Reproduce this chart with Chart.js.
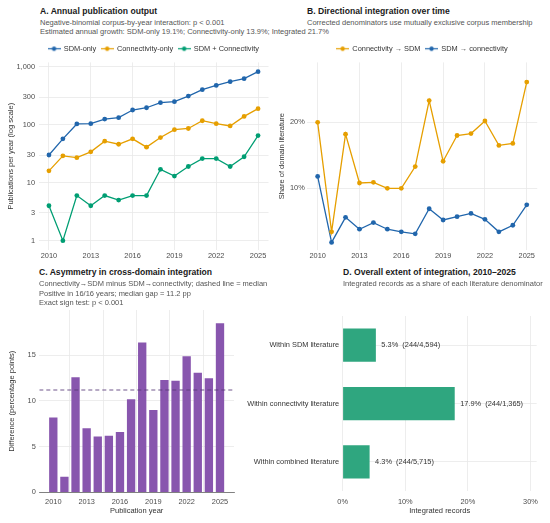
<!DOCTYPE html>
<html>
<head>
<meta charset="utf-8">
<script src="https://cdn.jsdelivr.net/npm/chart.js@4.4.1/dist/chart.umd.min.js"></script>
<style>
  html, body { margin: 0; background: #fff; }
  body { font-family: "Liberation Sans", Arial, sans-serif; }
  #fig { position: relative; width: 550px; height: 523px; overflow: hidden; }
  canvas { position: absolute; }
  .title { position: absolute; font-size: 8.6px; font-weight: bold; line-height: 10px; color: #1a1a1a; white-space: nowrap; z-index: 2; }
  .sub { position: absolute; font-size: 7.5px; line-height: 9.5px; color: #555; white-space: nowrap; z-index: 2; }
</style>
</head>
<body>
<div id="fig">
  <canvas id="chartA" width="275" height="220" style="left:0;top:40px"></canvas>
  <canvas id="chartB" width="275" height="220" style="left:275px;top:40px"></canvas>
  <canvas id="chartC" width="240" height="223" style="left:0;top:300px"></canvas>
  <canvas id="chartD" width="310" height="223" style="left:240px;top:300px"></canvas>

  <div class="title" style="left:40px;top:6px">A. Annual publication output</div>
  <div class="sub" style="left:40px;top:17.5px">Negative-binomial corpus-by-year interaction: p &lt; 0.001<br>Estimated annual growth: SDM-only 19.1%; Connectivity-only 13.9%; Integrated 21.7%</div>

  <div class="title" style="left:307px;top:6px">B. Directional integration over time</div>
  <div class="sub" style="left:307px;top:17.5px">Corrected denominators use mutually exclusive corpus membership</div>

  <div class="title" style="left:39px;top:267px">C. Asymmetry in cross-domain integration</div>
  <div class="sub" style="left:39px;top:279.3px">Connectivity→SDM minus SDM→connectivity; dashed line = median<br>Positive in 16/16 years; median gap = 11.2 pp<br>Exact sign test: p &lt; 0.001</div>

  <div class="title" style="left:343px;top:267px">D. Overall extent of integration, 2010–2025</div>
  <div class="sub" style="left:343px;top:278.5px">Integrated records as a share of each literature denominator</div>
</div>

<script>
// values
const years = [2010, 2011, 2012, 2013, 2014, 2015, 2016, 2017, 2018, 2019, 2020, 2021, 2022, 2023, 2024, 2025];
const sdmOnly = [30, 57, 103, 104, 125, 132, 179, 196, 240, 249, 312, 401, 476, 551, 621, 820];
const connectivityOnly = [16, 29, 27, 34, 52, 46, 57, 41, 60, 82, 86, 117, 104, 95, 139, 189];
const integrated = [4, 1, 6, 4, 6, 5, 6, 6, 17, 13, 19, 26, 26, 19, 28, 65];

const connToSdm = [20.0, 3.4, 18.2, 10.8, 10.9, 10.0, 10.0, 13.3, 23.3, 14.1, 18.0, 18.3, 20.2, 16.5, 16.8, 26.1];
const sdmToConn = [11.8, 1.8, 5.6, 3.8, 4.8, 3.8, 3.4, 3.1, 6.9, 5.2, 5.7, 6.2, 5.3, 3.4, 4.4, 7.5];

const asymmetryGap = [8.2, 1.7, 12.6, 7.0, 6.1, 6.2, 6.6, 10.2, 16.4, 9.0, 12.3, 12.2, 14.9, 13.1, 12.5, 18.5];
const medianGap = 11.2;

const extentCategories = ['Within SDM literature', 'Within connectivity literature', 'Within combined literature'];
const extentShare = [5.3, 17.9, 4.3];
const extentIntegrated = 244;
const extentDenominator = [4594, 1365, 5715];

const yearTicks = [2010, 2013, 2016, 2019, 2022, 2025];
const logTicks = [1, 3, 10, 30, 100, 300, 1000];
const shareTicks = [10, 20];
const gapTicks = [0, 5, 10, 15];
const pctTicks = [0, 10, 20, 30];

const BLUE = '#2166ac', ORANGE = '#e69f00', GREEN = '#009e73';
const PURPLE = '#8856ae', TEAL = '#2fa67f';

Chart.defaults.font.family = '"Liberation Sans", Arial, sans-serif';
Chart.defaults.font.size = 7.4;
Chart.defaults.color = '#4d4d4d';
Chart.defaults.animation = false;

const gridStyle = { color: '#e9e9e9', lineWidth: 0.8, drawTicks: false };

function fixedTicks(list) {
  return (axis) => { axis.ticks = list.map(v => ({ value: v })); };
}

function axisTitle(text, padding) {
  return { display: true, text: text, color: '#333', font: { size: 7.5 }, padding: padding };
}

function yearAxis(min, max, height, extra) {
  return Object.assign({
    type: 'linear', min: min, max: max, offset: false,
    afterBuildTicks: fixedTicks(yearTicks),
    afterFit: (s) => { s.height = height; },
    ticks: { callback: v => String(v), padding: 1.5, maxRotation: 0, autoSkip: false },
    grid: gridStyle,
    border: { display: false }
  }, extra || {});
}

// legend key: short line with a dot, like the ggplot keys
function lineDotIcon(color) {
  const c = document.createElement('canvas');
  c.width = 13; c.height = 7;
  const g = c.getContext('2d');
  g.strokeStyle = color; g.lineWidth = 1.2;
  g.beginPath(); g.moveTo(0, 3.5); g.lineTo(13, 3.5); g.stroke();
  g.fillStyle = color;
  g.beginPath(); g.arc(6.5, 3.5, 2.2, 0, Math.PI * 2); g.fill();
  return c;
}

const legendOpts = {
  position: 'top',
  fullSize: false,
  labels: {
    color: '#333',
    usePointStyle: true,
    pointStyleWidth: 12,
    padding: 5,
    generateLabels: (chart) => Chart.defaults.plugins.legend.labels.generateLabels(chart).map(item => {
      item.pointStyle = lineDotIcon(chart.data.datasets[item.datasetIndex].borderColor);
      return item;
    })
  }
};

function series(label, values, color) {
  return {
    label: label,
    data: years.map((y, i) => ({ x: y, y: values[i] })),
    borderColor: color,
    backgroundColor: color,
    borderWidth: 1.3,
    pointRadius: 2.4,
    pointBorderWidth: 0,
    pointBackgroundColor: color,
    tension: 0
  };
}

// A. annual output, log scale
new Chart(document.getElementById('chartA'), {
  type: 'line',
  data: {
    datasets: [
      series('SDM-only', sdmOnly, BLUE),
      series('Connectivity-only', connectivityOnly, ORANGE),
      series('SDM + Connectivity', integrated, GREEN)
    ]
  },
  options: {
    responsive: false,
    layout: { padding: { right: 6.5 } },
    plugins: { legend: legendOpts, tooltip: { enabled: false } },
    scales: {
      x: yearAxis(2009.25, 2025.75, 10),
      y: {
        type: 'logarithmic', min: 0.69, max: 1186,
        afterBuildTicks: fixedTicks(logTicks),
        afterFit: (s) => { s.width = 38.5; },
        ticks: { callback: v => v.toLocaleString('en-US'), padding: 3.5 },
        grid: gridStyle,
        border: { display: false },
        title: axisTitle('Publications per year (log scale)', { top: 6.5, bottom: 0 })
      }
    }
  }
});

// B. directional integration
new Chart(document.getElementById('chartB'), {
  type: 'line',
  data: {
    datasets: [
      series('Connectivity → SDM', connToSdm, ORANGE),
      series('SDM → connectivity', sdmToConn, BLUE)
    ]
  },
  options: {
    responsive: false,
    layout: { padding: { right: 12.8 } },
    plugins: { legend: legendOpts, tooltip: { enabled: false } },
    scales: {
      x: yearAxis(2009.25, 2025.75, 10),
      y: {
        type: 'linear', min: 0.65, max: 29.08,
        afterBuildTicks: fixedTicks(shareTicks),
        afterFit: (s) => { s.width = 32.2; },
        ticks: { callback: v => v + '%', padding: 2.5 },
        grid: gridStyle,
        border: { display: false },
        title: axisTitle('Share of domain literature', { top: 2.8, bottom: 0 })
      }
    }
  }
});

// C. asymmetry bars with median line
new Chart(document.getElementById('chartC'), {
  type: 'bar',
  data: {
    datasets: [
      {
        type: 'line',
        label: 'Median',
        data: [{ x: 2008.74, y: medianGap }, { x: 2026.26, y: medianGap }],
        borderColor: 'rgba(88, 58, 120, 0.85)',
        borderWidth: 1.1,
        borderDash: [4, 3],
        pointRadius: 0,
        order: 0
      },
      {
        label: 'Difference',
        data: years.map((y, i) => ({ x: y, y: asymmetryGap[i] })),
        backgroundColor: PURPLE,
        barPercentage: 0.75,
        categoryPercentage: 1,
        order: 1
      }
    ]
  },
  options: {
    responsive: false,
    layout: { padding: { top: 10, right: 6 } },
    plugins: { legend: { display: false }, tooltip: { enabled: false } },
    scales: {
      x: yearAxis(2008.74, 2026.26, 30.7, {
        ticks: { callback: v => String(v), padding: 5.3, maxRotation: 0, autoSkip: false },
        border: { display: true, color: '#666', width: 0.8 },
        title: axisTitle('Publication year', { top: 0, bottom: 7.5 })
      }),
      y: {
        type: 'linear', min: 0, max: 19.96,
        afterBuildTicks: fixedTicks(gapTicks),
        afterFit: (s) => { s.width = 39.3; },
        ticks: { padding: 3.5 },
        grid: gridStyle,
        border: { display: false },
        title: axisTitle('Difference (percentage points)', { top: 7.2, bottom: 0 })
      }
    }
  }
});

// value labels to the right of the D bars
const barLabels = {
  id: 'barLabels',
  afterDatasetsDraw(chart) {
    const ctx = chart.ctx;
    const meta = chart.getDatasetMeta(0);
    ctx.save();
    ctx.font = '7.4px "Liberation Sans", Arial, sans-serif';
    ctx.fillStyle = '#333';
    ctx.textBaseline = 'middle';
    ctx.textAlign = 'left';
    meta.data.forEach((bar, i) => {
      const txt = extentShare[i].toFixed(1) + '%  (' + extentIntegrated + '/' +
        extentDenominator[i].toLocaleString('en-US') + ')';
      ctx.fillText(txt, bar.x + 5.5, bar.y);
    });
    ctx.restore();
  }
};

// D. overall extent
new Chart(document.getElementById('chartD'), {
  type: 'bar',
  data: {
    labels: extentCategories,
    datasets: [{
      data: extentShare,
      backgroundColor: TEAL,
      barPercentage: 0.57,
      categoryPercentage: 1
    }]
  },
  options: {
    responsive: false,
    indexAxis: 'y',
    layout: { padding: { top: 16, right: 13.3 } },
    plugins: { legend: { display: false }, tooltip: { enabled: false } },
    scales: {
      x: {
        type: 'linear', min: 0, max: 31,
        afterBuildTicks: fixedTicks(pctTicks),
        afterFit: (s) => { s.height = 32; },
        ticks: { callback: v => v + '%', padding: 6.5 },
        grid: gridStyle,
        border: { display: false },
        title: axisTitle('Integrated records', { top: 0, bottom: 7.5 })
      },
      y: {
        type: 'category',
        afterFit: (s) => { s.width = 102.7; },
        ticks: { color: '#333', padding: 3.5 },
        grid: Object.assign({}, gridStyle, { offset: false }),
        border: { display: false }
      }
    }
  },
  plugins: [barLabels]
});
</script>
</body>
</html>
